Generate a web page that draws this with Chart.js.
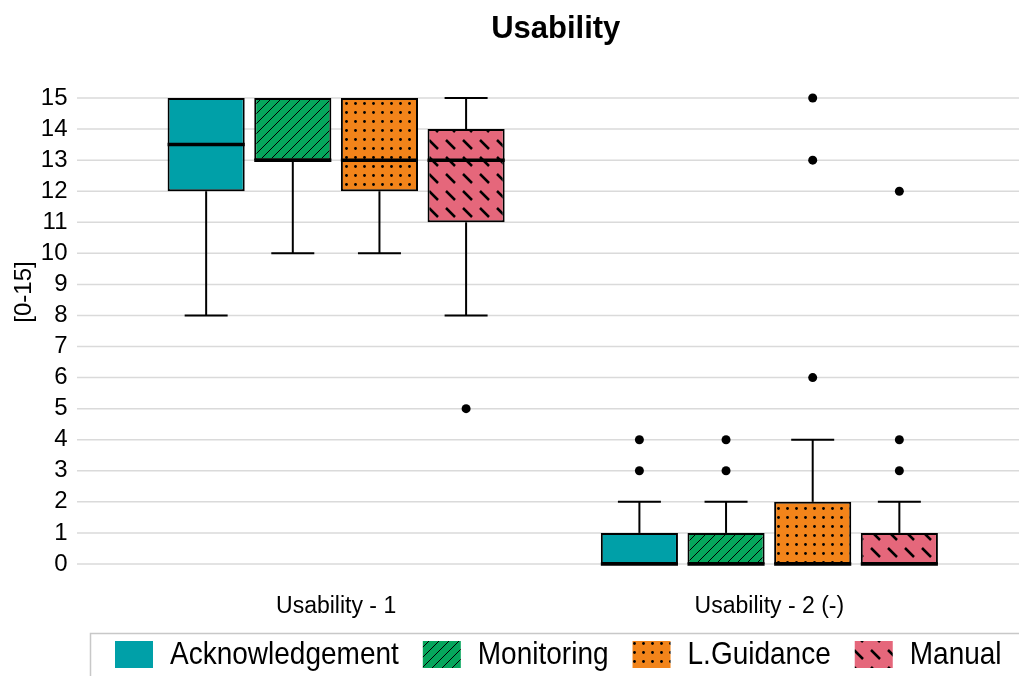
<!DOCTYPE html>
<html>
<head>
<meta charset="utf-8">
<script src="https://cdn.jsdelivr.net/npm/chart.js@4"></script>
<style>
  body { margin: 0; background: #fff; }
  canvas { display: block; }
</style>
</head>
<body>
<canvas id="boxChart" width="1019" height="676"></canvas>
<script>
const categories = ["Usability - 1", "Usability - 2 (-)"];
const seriesNames = ["Acknowledgement", "Monitoring", "L.Guidance", "Manual"];
const yTicks = [0, 15];

// [min, q1, median, q3, max] per category
const ackStats = [[8, 12, 13.5, 15, 15], [0, 0, 0, 1, 2]];
const monStats = [[10, 13, 13, 15, 15], [0, 0, 0, 1, 2]];
const lgStats = [[10, 12, 13, 15, 15], [0, 0, 0, 2, 4]];
const manStats = [[8, 11, 13, 14, 15], [0, 0, 0, 1, 2]];

// outliers per category
const ackOut = [[], [3, 4]];
const monOut = [[], [3, 4]];
const lgOut = [[], [6, 13, 15]];
const manOut = [[5], [3, 4, 12]];

const FONT = '"Liberation Sans", Arial, sans-serif';

// fill patterns
function makePattern(color, kind) {
  const size = kind === "dash" ? 17 : kind === "dots" ? 9 : 10;
  const c = document.createElement("canvas");
  c.width = size;
  c.height = size;
  const g = c.getContext("2d");
  g.fillStyle = color;
  g.fillRect(0, 0, size, size);
  g.strokeStyle = "#000";
  g.fillStyle = "#000";
  if (kind === "diag") {
    g.lineWidth = 1;
    g.beginPath();
    g.moveTo(0, size); g.lineTo(size, 0);
    g.moveTo(-2, 2); g.lineTo(2, -2);
    g.moveTo(size - 2, size + 2); g.lineTo(size + 2, size - 2);
    g.stroke();
  } else if (kind === "dots") {
    g.beginPath();
    g.arc(4.5, 4.5, 1.4, 0, Math.PI * 2);
    g.fill();
  } else if (kind === "dash") {
    g.lineWidth = 2.5;
    g.lineCap = "butt";
    g.beginPath();
    g.moveTo(4, 4); g.lineTo(13, 13);
    g.stroke();
  }
  const ctx = document.createElement("canvas").getContext("2d");
  return ctx.createPattern(c, "repeat");
}

const fills = [
  makePattern("#00A0A8", "solid"),
  makePattern("#05A65C", "diag"),
  makePattern("#F2841A", "dots"),
  makePattern("#E5677B", "dash"),
];
const allStats = [ackStats, monStats, lgStats, manStats];
const allOut = [ackOut, monOut, lgOut, manOut];

// whiskers, medians, outliers, gridlines, title, legend
const boxPlugin = {
  id: "boxExtras",
  beforeDatasetsDraw(chart) {
    const { ctx } = chart;
    const y = chart.scales.y;
    ctx.save();
    ctx.strokeStyle = "#dadada";
    ctx.lineWidth = 1.5;
    y.ticks.forEach((t) => {
      const py = y.getPixelForValue(t.value);
      ctx.beginPath();
      ctx.moveTo(77, py);
      ctx.lineTo(chart.width, py);
      ctx.stroke();
    });
    ctx.restore();
  },
  afterDatasetsDraw(chart) {
    const { ctx } = chart;
    const y = chart.scales.y;
    ctx.save();
    ctx.strokeStyle = "#000";
    ctx.fillStyle = "#000";
    chart.data.datasets.forEach((ds, di) => {
      const meta = chart.getDatasetMeta(di);
      meta.data.forEach((bar, i) => {
        const { x, width } = bar.getProps(["x", "width"], true);
        const [mn, q1, med, q3, mx] = ds.stats[i];
        ctx.lineWidth = 2;
        ctx.beginPath();
        if (mx > q3) {
          ctx.moveTo(x, y.getPixelForValue(q3));
          ctx.lineTo(x, y.getPixelForValue(mx));
        }
        if (mn < q1) {
          ctx.moveTo(x, y.getPixelForValue(q1));
          ctx.lineTo(x, y.getPixelForValue(mn));
        }
        ctx.stroke();
        ctx.beginPath();
        if (mx > q3) {
          ctx.moveTo(x - 21.5, y.getPixelForValue(mx));
          ctx.lineTo(x + 21.5, y.getPixelForValue(mx));
        }
        if (mn < q1) {
          ctx.moveTo(x - 21.5, y.getPixelForValue(mn));
          ctx.lineTo(x + 21.5, y.getPixelForValue(mn));
        }
        ctx.stroke();
        ctx.lineWidth = 3.5;
        ctx.beginPath();
        ctx.moveTo(x - width / 2, y.getPixelForValue(med));
        ctx.lineTo(x + width / 2, y.getPixelForValue(med));
        ctx.stroke();
        ds.outliers[i].forEach((v) => {
          ctx.beginPath();
          ctx.arc(x, y.getPixelForValue(v), 4.5, 0, Math.PI * 2);
          ctx.fill();
        });
      });
    });
    ctx.restore();
  },
  afterDraw(chart) {
    const { ctx, chartArea } = chart;
    ctx.save();
    // title
    ctx.fillStyle = "#000";
    ctx.font = "bold 31px " + FONT;
    ctx.textAlign = "center";
    ctx.textBaseline = "alphabetic";
    ctx.fillText("Usability", (chartArea.left + chartArea.right) / 2 + 3, 38);
    // y axis title
    ctx.save();
    ctx.translate(24, 292);
    ctx.rotate(-Math.PI / 2);
    ctx.font = "24px " + FONT;
    ctx.textBaseline = "middle";
    ctx.fillText("[0-15]", 0, 0);
    ctx.restore();
    // legend
    ctx.strokeStyle = "#c8c8c8";
    ctx.lineWidth = 1.5;
    ctx.strokeRect(90.5, 633.5, 1000, 100);
    ctx.font = "28px " + FONT;
    ctx.textAlign = "left";
    ctx.textBaseline = "middle";
    let lx = 115;
    seriesNames.forEach((name, i) => {
      ctx.fillStyle = fills[i];
      ctx.fillRect(lx, 641, 38, 27);
      ctx.fillStyle = "#000";
      ctx.save();
      ctx.translate(lx + 55, 656);
      ctx.scale(1, 1.1);
      ctx.fillText(name, 0, 0);
      ctx.restore();
      lx += 55 + ctx.measureText(name).width + 24;
    });
    ctx.restore();
  },
};

new Chart(document.getElementById("boxChart"), {
  type: "bar",
  data: {
    labels: categories,
    datasets: seriesNames.map((name, i) => ({
      label: name,
      data: allStats[i].map((s) => [s[1], s[3]]),
      stats: allStats[i],
      outliers: allOut[i],
      backgroundColor: fills[i],
      borderColor: "#000",
      borderWidth: 2,
      borderSkipped: false,
      categoryPercentage: 0.8,
      barPercentage: 0.89,
    })),
  },
  options: {
    responsive: false,
    animation: false,
    layout: { padding: { top: 98, right: 33, left: 0, bottom: 0 } },
    plugins: {
      legend: { display: false },
      title: { display: false },
      tooltip: { enabled: false },
    },
    scales: {
      x: {
        grid: { display: false, drawTicks: false },
        border: { display: false },
        ticks: { color: "#000", font: { family: FONT, size: 23 }, padding: 29 },
        afterFit(scale) { scale.height = 112; },
      },
      y: {
        min: yTicks[0],
        max: yTicks[1],
        grid: { display: false, drawTicks: false },
        border: { display: false },
        ticks: { stepSize: 1, autoSkip: false, color: "#000", font: { family: FONT, size: 24 }, padding: 52 },
        afterFit(scale) { scale.width = 119.5; },
      },
    },
  },
  plugins: [boxPlugin],
});
</script>
</body>
</html>
